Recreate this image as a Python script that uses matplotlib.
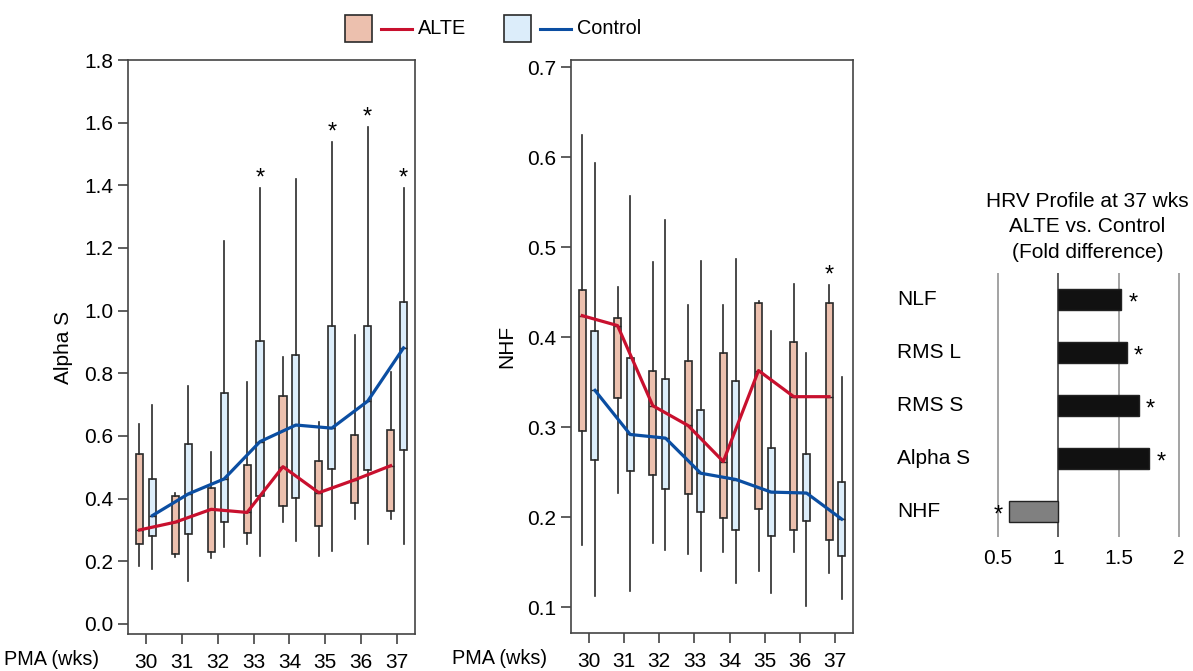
import matplotlib
matplotlib.use("Agg")
import matplotlib.pyplot as plt
from matplotlib.patches import Rectangle
from matplotlib.lines import Line2D
import numpy as np

plt.rcParams['font.family'] = ['Liberation Sans', 'DejaVu Sans']

weeks = [30, 31, 32, 33, 34, 35, 36, 37]

# Alpha S box stats (ALTE / Control)
alte_alpha_lo = [0.186, 0.213, 0.210, 0.254, 0.326, 0.217, 0.336, 0.335]
alte_alpha_q1 = [0.254, 0.223, 0.231, 0.289, 0.377, 0.313, 0.386, 0.359]
alte_alpha_med = [0.300, 0.325, 0.366, 0.356, 0.502, 0.419, 0.460, 0.505]
alte_alpha_q3 = [0.542, 0.408, 0.435, 0.507, 0.729, 0.520, 0.604, 0.620]
alte_alpha_hi = [0.637, 0.419, 0.549, 0.773, 0.851, 0.645, 0.921, 0.803]

ctrl_alpha_lo = [0.174, 0.138, 0.247, 0.217, 0.266, 0.233, 0.256, 0.256]
ctrl_alpha_q1 = [0.282, 0.286, 0.324, 0.409, 0.403, 0.494, 0.492, 0.554]
ctrl_alpha_med = [0.346, 0.415, 0.463, 0.582, 0.635, 0.625, 0.711, 0.881]
ctrl_alpha_q3 = [0.464, 0.574, 0.737, 0.904, 0.857, 0.950, 0.950, 1.029]
ctrl_alpha_hi = [0.699, 0.761, 1.222, 1.390, 1.419, 1.539, 1.586, 1.390]
alpha_sig = [33, 35, 36, 37]  # control whiskers marked with *

# NHF box stats
alte_nhf_lo = [0.169, 0.227, 0.172, 0.159, 0.161, 0.140, 0.161, 0.138]
alte_nhf_q1 = [0.296, 0.332, 0.247, 0.226, 0.199, 0.209, 0.186, 0.175]
alte_nhf_med = [0.424, 0.413, 0.324, 0.302, 0.262, 0.363, 0.334, 0.334]
alte_nhf_q3 = [0.452, 0.421, 0.362, 0.374, 0.382, 0.438, 0.395, 0.438]
alte_nhf_hi = [0.625, 0.456, 0.484, 0.436, 0.436, 0.440, 0.459, 0.458]

ctrl_nhf_lo = [0.113, 0.118, 0.164, 0.140, 0.127, 0.116, 0.102, 0.109]
ctrl_nhf_q1 = [0.264, 0.252, 0.231, 0.206, 0.186, 0.179, 0.196, 0.157]
ctrl_nhf_med = [0.341, 0.292, 0.288, 0.249, 0.242, 0.228, 0.227, 0.198]
ctrl_nhf_q3 = [0.407, 0.377, 0.354, 0.319, 0.351, 0.277, 0.270, 0.239]
ctrl_nhf_hi = [0.594, 0.557, 0.530, 0.485, 0.487, 0.407, 0.382, 0.356]
nhf_sig = [37]  # ALTE whisker marked with *

# fold difference at 37 wks
fold_names = ['NLF', 'RMS L', 'RMS S', 'Alpha S', 'NHF']
fold_values = [1.52, 1.567, 1.667, 1.755, 0.589]

ALTE_FILL = '#ECC0AE'
CTRL_FILL = '#DCEDFA'
ALTE_LINE = '#C8102E'
CTRL_LINE = '#0B4EA2'
EDGE = '#2a2a2a'
FS = 15
STAR = 17

fig = plt.figure(figsize=(11.93, 6.71), dpi=100)
W, H = 1193, 671


def px_axes(x0, y0, x1, y1):
    return fig.add_axes([x0 / W, 1 - y1 / H, (x1 - x0) / W, (y1 - y0) / H])


def make_stats(lo, q1, med, q3, hi):
    return [dict(whislo=a, q1=b, med=c, q3=d, whishi=e, fliers=[])
            for a, b, c, d, e in zip(lo, q1, med, q3, hi)]


def box_panel(ax, alte, ctrl, label_x, off=0.18, width=0.2):
    x = np.array(weeks, dtype=float)
    for stats, pos, fill in [(alte, x - off, ALTE_FILL), (ctrl, x + off, CTRL_FILL)]:
        ax.bxp(make_stats(*stats), positions=pos, widths=width, showcaps=False,
               showfliers=False, patch_artist=True, manage_ticks=False,
               boxprops=dict(facecolor=fill, edgecolor=EDGE, linewidth=1.2),
               whiskerprops=dict(color=EDGE, linewidth=1.2),
               medianprops=dict(color=EDGE, linewidth=1.0))
    ax.plot(x - off, alte[2], color=ALTE_LINE, lw=2.3, zorder=5)
    ax.plot(x + off, ctrl[2], color=CTRL_LINE, lw=2.3, zorder=5)
    ax.set_xlim(29.5, 37.5)
    ax.set_xticks(weeks)
    ax.set_xticklabels([str(w) for w in weeks], fontsize=FS)
    ax.tick_params(axis='both', direction='out', length=7, width=1.1, color='#333333', labelsize=FS)
    ax.tick_params(axis='x', pad=7)
    for s in ax.spines.values():
        s.set_color('#444444')
        s.set_linewidth(1.2)
    ax.text(label_x, -0.045, 'PMA (wks)', transform=ax.transAxes, ha='center', va='center', fontsize=14.3)


# left panel: Alpha S
ax1 = px_axes(128, 60, 415, 634)
alte_a = (alte_alpha_lo, alte_alpha_q1, alte_alpha_med, alte_alpha_q3, alte_alpha_hi)
ctrl_a = (ctrl_alpha_lo, ctrl_alpha_q1, ctrl_alpha_med, ctrl_alpha_q3, ctrl_alpha_hi)
box_panel(ax1, alte_a, ctrl_a, -0.265)
ax1.set_ylim(-0.032, 1.8)
ax1.set_yticks(np.arange(0, 1.81, 0.2))
ax1.set_yticklabels([f'{v:.1f}' for v in np.arange(0, 1.81, 0.2)])
ax1.set_ylabel('Alpha S', fontsize=FS, labelpad=8)
for w in alpha_sig:
    i = weeks.index(w)
    ax1.text(w + 0.18, ctrl_alpha_hi[i] - 0.005, '*', ha='center', va='bottom', fontsize=STAR)

# middle panel: NHF
ax2 = px_axes(571, 60, 853, 633)
alte_n = (alte_nhf_lo, alte_nhf_q1, alte_nhf_med, alte_nhf_q3, alte_nhf_hi)
ctrl_n = (ctrl_nhf_lo, ctrl_nhf_q1, ctrl_nhf_med, ctrl_nhf_q3, ctrl_nhf_hi)
box_panel(ax2, alte_n, ctrl_n, -0.255)
ax2.set_ylim(0.0715, 0.708)
ax2.set_yticks([0.1, 0.2, 0.3, 0.4, 0.5, 0.6, 0.7])
ax2.set_yticklabels(['0.1', '0.2', '0.3', '0.4', '0.5', '0.6', '0.7'])
ax2.set_ylabel('NHF', fontsize=FS, labelpad=8)
for w in nhf_sig:
    i = weeks.index(w)
    ax2.text(w - 0.18, alte_nhf_hi[i] - 0.002, '*', ha='center', va='bottom', fontsize=STAR)

# legend (box swatch, line, label) drawn in figure pixels
legend_items = [('ALTE', ALTE_FILL, ALTE_LINE, 345), ('Control', CTRL_FILL, CTRL_LINE, 504)]
for name, fill, line, x0 in legend_items:
    fig.add_artist(Rectangle((x0 / W, 1 - 42 / H), 27 / W, 27 / H, transform=fig.transFigure,
                             facecolor=fill, edgecolor=EDGE, lw=1.2))
    fig.add_artist(Line2D([(x0 + 36) / W, (x0 + 67) / W], [1 - 28.5 / H] * 2,
                          transform=fig.transFigure, color=line, lw=2.2))
    fig.text((x0 + 73) / W, 1 - 28.5 / H, name, ha='left', va='center', fontsize=14.3)

# right panel: fold difference
ax3 = px_axes(986, 273, 1185, 537)
ypos = np.arange(len(fold_names))[::-1]
colors = ['#111111' if v >= 1 else '#808080' for v in fold_values]
ax3.barh(ypos, np.array(fold_values) - 1, left=1, height=0.39, color=colors, edgecolor='#222222', lw=1, zorder=3)
ax3.set_xlim(0.4, 2.05)
ax3.set_ylim(-0.48, 4.5)
for gx in [0.5, 1, 1.5, 2]:
    ax3.axvline(gx, color='#333333' if gx == 1 else '#8a8a8a', lw=1.1, zorder=1)
for s in ax3.spines.values():
    s.set_visible(False)
ax3.set_yticks([])
ax3.set_xticks([0.5, 1, 1.5, 2])
ax3.set_xticklabels(['0.5', '1', '1.5', '2'])
ax3.tick_params(axis='x', length=0, labelsize=FS, pad=9)
for y, name, v in zip(ypos, fold_names, fold_values):
    ax3.text(-0.34, y, name, ha='left', va='center', fontsize=FS, clip_on=False)
    if v >= 1:
        ax3.text(v + 0.06, y - 0.08, '*', ha='left', va='center', fontsize=STAR)
    else:
        ax3.text(v - 0.05, y - 0.08, '*', ha='right', va='center', fontsize=STAR)
ax3.text(0.51, 1.175, 'HRV Profile at 37 wks\nALTE vs. Control\n(Fold difference)',
         transform=ax3.transAxes, ha='center', va='center', fontsize=FS, linespacing=1.45)

fig.savefig('out.png', dpi=100)
